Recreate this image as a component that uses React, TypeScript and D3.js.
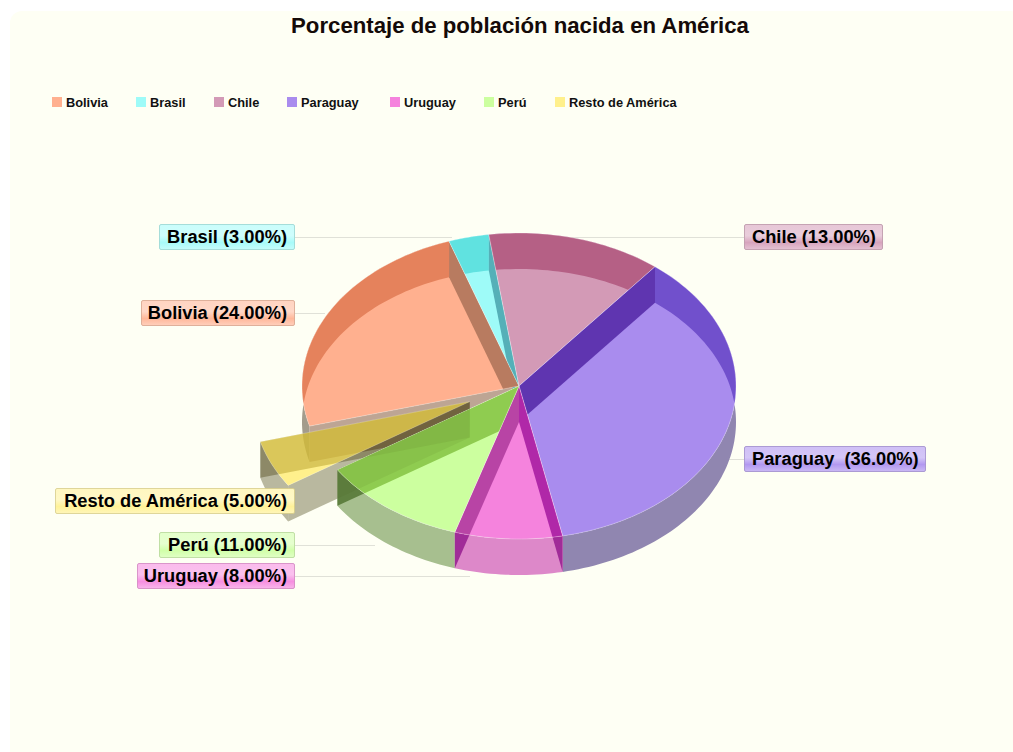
import React from "react";
import * as d3 from "d3";

// Shares of the population born elsewhere in the Americas.
const countries = ["Bolivia", "Brasil", "Chile", "Paraguay", "Uruguay", "Perú", "Resto de América"];
const shares = [24, 3, 13, 36, 8, 11, 5];
const labelNames = ["Bolivia", "Brasil", "Chile", "Paraguay ", "Uruguay", "Perú", "Resto de América"];

const explodedIndex = 6;
const neighbourIndex = 5;

// Tints per slice: lit top face, rim on the page, rim seen through the face,
// side walls through the face (clockwise edge first), side wall where it leaves the face.
const faceTints = ["#ffb08f", "#9efbf8", "#d39ab6", "#a98cee", "#f583dd", "#ccff9f", "#fff08c"];
const rimTints = ["#a39c8c", "#7fc8c8", "#c48aa4", "#9086b0", "#dd88c9", "#a7bf8f", "#b9b88a"];
const innerRimTints = ["#e5825c", "#60e2e0", "#b56085", "#7150cc", "#dd88c9", "#a7bf8f", "#e0d050"];
const sideStartTints = ["#b87b60", "#55b0b8", "#b56085", "#5f35b0", "#b028a8", "#8fcc50", "#e0d050"];
const sideEndTints = ["#b87b60", "#55b0b8", "#b56085", "#5f35b0", "#b844a5", "#8fcc50", "#e0d050"];
const sideOutTints = ["#bda594", "#55b0b8", "#b56085", "#5f35b0", "#a02c98", "#5f8040", "#b9b88a"];

const labelLayout = [
  { left: 141, top: 300, right: 295, lineY: 313, lineTo: 325 },
  { left: 159, top: 224, right: 295, lineY: 237, lineTo: 452 },
  { left: 744, top: 224, right: 883, lineY: 237, lineTo: 570 },
  { left: 744, top: 446, right: 926, lineY: 459, lineTo: 725 },
  { left: 137, top: 563, right: 295, lineY: 576, lineTo: 470 },
  { left: 159, top: 532, right: 295, lineY: 545, lineTo: 375 },
  { left: 55, top: 488, right: 295, lineY: 500, lineTo: 295 },
];

const legendSwatchX = [52, 136, 214, 287, 390, 484, 555];

const WIDTH = 1013;
const HEIGHT = 752;
const BG = "#fefff4";
const CX = 519;
const CY = 386;
const RX = 217;
const RY = 153;
const DEPTH = 36;
const EXPLODE = 54;
const START = (-105.2 * Math.PI) / 180;
const SHELL_ALPHA = 0.35;
const CAP_ALPHA = 0.65;

const pie = d3
  .pie<number>()
  .sort(null)
  .startAngle(START)
  .endAngle(START + 2 * Math.PI);

const xUnit = d3.scaleLinear().domain([-1, 1]).range([CX - RX, CX + RX]);
const yUnit = d3.scaleLinear().domain([-1, 1]).range([CY - RY, CY + RY]);

type Pt = [number, number];
const rim = (a: number, ox: number, oy: number): Pt => [xUnit(Math.sin(a)) + ox, yUnit(-Math.cos(a)) + oy];
const line = d3.line<Pt>().curve(d3.curveLinear);

const arcPoints = (a0: number, a1: number, ox: number, oy: number): Pt[] => {
  const n = Math.max(2, Math.ceil(Math.abs(a1 - a0) * 40));
  return d3.range(n + 1).map((i) => rim(a0 + ((a1 - a0) * i) / n, ox, oy));
};

// Colour that lands on `target` when laid over the page at the given opacity.
const solveTint = (target: string, alpha: number) => {
  const t = d3.rgb(target);
  const b = d3.rgb(BG);
  const ch = (x: number, y: number) => Math.max(0, Math.min(255, (x - (1 - alpha) * y) / alpha));
  return d3.rgb(ch(t.r, b.r), ch(t.g, b.g), ch(t.b, b.b)).formatRgb();
};

const App = () => {
  const arcs = pie(shares);

  const slices = arcs.map((d, i) => {
    const mid = (d.startAngle + d.endAngle) / 2;
    const ox = i === explodedIndex ? EXPLODE * Math.sin(mid) : 0;
    const oy = i === explodedIndex ? (-EXPLODE * Math.cos(mid) * RY) / RX : 0;
    const apex: Pt = [CX + ox, CY + oy];
    const top = arcPoints(d.startAngle, d.endAngle, ox, oy);
    const bottom = top.map(([x, y]) => [x, y + DEPTH] as Pt).reverse();
    const face = line([apex, ...top])! + "Z";
    const outer = line([...top, ...bottom])! + "Z";
    const side = (a: number) => {
      const p = rim(a, ox, oy);
      return line([apex, p, [p[0], p[1] + DEPTH], [apex[0], apex[1] + DEPTH]])! + "Z";
    };
    const prevExploded = (i + arcs.length - 1) % arcs.length === explodedIndex;
    const nextExploded = (i + 1) % arcs.length === explodedIndex;
    const walls: { path: string; tint: string }[] = [];
    if (Math.sin(d.startAngle) > 0 || i === explodedIndex || prevExploded)
      walls.push({ path: side(d.startAngle), tint: sideStartTints[i] });
    if (Math.sin(d.endAngle) < 0 || i === explodedIndex || nextExploded)
      walls.push({ path: side(d.endAngle), tint: sideEndTints[i] });
    return { i, face, outer, walls };
  });

  const seated = slices.filter((s) => s.i !== explodedIndex);
  const loose = slices[explodedIndex];
  const neighbour = slices[neighbourIndex];
  const shellFill = solveTint(rimTints[explodedIndex], SHELL_ALPHA);
  const capFill = solveTint(faceTints[explodedIndex], CAP_ALPHA);

  const shell = (fill: string, opacity: number) => (
    <>
      <path d={loose.outer} fill={fill} fillOpacity={opacity} />
      {loose.walls.map((w, k) => (
        <path key={k} d={w.path} fill={fill} fillOpacity={opacity} />
      ))}
    </>
  );

  return (
    <svg
      width={WIDTH}
      height={HEIGHT}
      viewBox={`0 0 ${WIDTH} ${HEIGHT}`}
      style={{ position: "absolute", left: 0, top: 0, display: "block" }}
      fontFamily="'Liberation Sans', Arial, sans-serif"
    >
      <defs>
        {slices.map((s) => (
          <clipPath id={`face-${s.i}`} key={s.i}>
            <path d={s.face} />
          </clipPath>
        ))}
        <clipPath id="neighbour-body">
          <path d={neighbour.face} />
          {neighbour.walls.map((w, k) => (
            <path key={k} d={w.path} />
          ))}
        </clipPath>
        <mask id="off-faces" maskUnits="userSpaceOnUse" x={0} y={0} width={WIDTH} height={HEIGHT}>
          <rect width={WIDTH} height={HEIGHT} fill="#fff" />
          {seated.map((s) => (
            <path key={s.i} d={s.face} fill="#000" />
          ))}
        </mask>
        <mask id="off-neighbour" maskUnits="userSpaceOnUse" x={0} y={0} width={WIDTH} height={HEIGHT}>
          <rect width={WIDTH} height={HEIGHT} fill="#fff" />
          <path d={neighbour.face} fill="#000" />
          {neighbour.walls.map((w, k) => (
            <path key={k} d={w.path} fill="#000" />
          ))}
        </mask>
        {countries.map((_, i) => {
          const pale = (t: number) => d3.interpolateRgb(faceTints[i], "#ffffff")(t);
          return (
            <linearGradient id={`tag-${i}`} key={i} x1="0" y1="0" x2="0" y2="1">
              <stop offset="0" stopColor={pale(0.45)} />
              <stop offset="0.45" stopColor={pale(0.5)} />
              <stop offset="0.72" stopColor={pale(0.1)} />
              <stop offset="1" stopColor={pale(0.4)} />
            </linearGradient>
          );
        })}
      </defs>

      <rect width={WIDTH} height={HEIGHT} fill="#ffffff" />
      <rect x={10} y={11} width={WIDTH} height={HEIGHT} rx={12} fill={BG} />

      <text x={520} y={33} textAnchor="middle" fontSize={22.2} fontWeight={700} fill="#140a08">
        Porcentaje de población nacida en América
      </text>

      {countries.map((name, i) => (
        <g key={name}>
          <rect x={legendSwatchX[i]} y={97} width={10} height={10} fill={faceTints[i]} />
          <text x={legendSwatchX[i] + 14} y={106.5} fontSize={12.8} fontWeight={700} fill="#111">
            {name}
          </text>
        </g>
      ))}

      {countries.map((name, i) => (
        <line
          key={name}
          x1={labelLayout[i].left < CX ? labelLayout[i].right : labelLayout[i].left}
          x2={labelLayout[i].lineTo}
          y1={labelLayout[i].lineY + 0.5}
          y2={labelLayout[i].lineY + 0.5}
          stroke="#e0e1d8"
          strokeWidth={1}
        />
      ))}

      {/* Rims and side walls of the seated slices, where they are not behind a top face */}
      <g mask="url(#off-faces)">
        {seated.map((s) => (
          <path key={s.i} d={s.outer} fill={rimTints[s.i]} />
        ))}
        {seated.map((s) =>
          s.walls.map((w, k) => <path key={`${s.i}-${k}`} d={w.path} fill={sideOutTints[s.i]} />)
        )}
      </g>

      {/* Top faces, with the walls seen through each one */}
      {seated.map((s) => (
        <g key={s.i}>
          <path d={s.face} fill={faceTints[s.i]} />
          <g clipPath={`url(#face-${s.i})`}>
            <path d={s.outer} fill={innerRimTints[s.i]} />
            {s.walls.map((w, k) => (
              <path key={k} d={w.path} fill={w.tint} />
            ))}
          </g>
          <path d={s.face} fill="none" stroke="#ffffff" strokeOpacity={0.35} strokeWidth={0.8} />
        </g>
      ))}

      {/* The pulled-out slice is translucent, so what lies beneath shows through */}
      <g mask="url(#off-neighbour)">
        {shell(shellFill, SHELL_ALPHA)}
        <path d={loose.face} fill={capFill} fillOpacity={CAP_ALPHA} />
        <g clipPath={`url(#face-${explodedIndex})`}>
          {loose.walls.map((w, k) => (
            <path key={k} d={w.path} fill="#a88c10" fillOpacity={0.22} />
          ))}
        </g>
      </g>
      <g clipPath="url(#neighbour-body)">{shell("#3a4a10", 0.08)}</g>
      <path d={loose.face} fill="none" stroke="#ffffff" strokeOpacity={0.3} strokeWidth={0.8} />

      {countries.map((_, i) => {
        const l = labelLayout[i];
        const isLeft = l.left < CX;
        const text = `${labelNames[i]} (${shares[i].toFixed(2)}%)`;
        const textX = isLeft ? l.right - 8 : l.left + 8;
        return (
          <g key={i}>
            <rect
              x={l.left + 0.5}
              y={l.top + 0.5}
              width={l.right - l.left - 1}
              height={25}
              rx={1.5}
              fill={`url(#tag-${i})`}
              stroke={d3.interpolateRgb(faceTints[i], "#707070")(0.3)}
              strokeOpacity={0.75}
              strokeWidth={1}
            />
            <text
              x={textX}
              y={l.top + 19}
              textAnchor={isLeft ? "end" : "start"}
              fontSize={18.3}
              fontWeight={700}
              fill="#000"
              style={{ whiteSpace: "pre" }}
            >
              {text}
            </text>
          </g>
        );
      })}
    </svg>
  );
};

export default App;
